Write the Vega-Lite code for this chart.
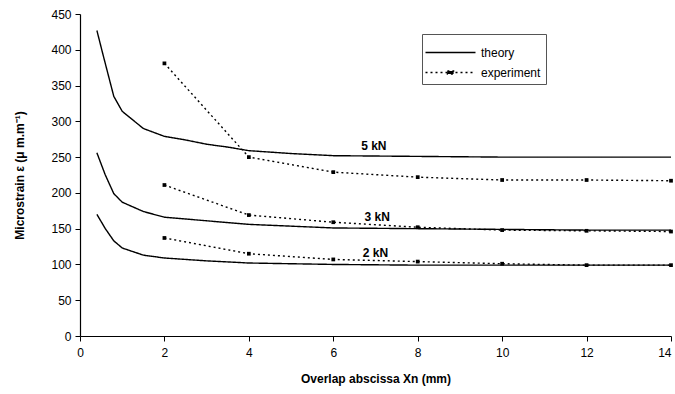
{
  "$schema": "https://vega.github.io/schema/vega-lite/v6.json",
  "autosize": {"type": "none"},
  "padding": {"left": 80, "top": 14, "right": 4, "bottom": 58},
  "width": 591,
  "height": 322,
  "background": "white",
  "config": {
    "view": {"stroke": null},
    "font": "Liberation Sans",
    "axis": {
      "grid": false,
      "domainColor": "black",
      "tickColor": "black",
      "labelColor": "black",
      "titleColor": "black",
      "labelFont": "Liberation Sans",
      "titleFont": "Liberation Sans",
      "labelFontSize": 12,
      "titleFontSize": 12,
      "titleFontWeight": "bold",
      "tickSize": 5,
      "domainWidth": 1.2,
      "tickWidth": 1,
      "labelOverlap": false,
      "labelFlush": false,
      "labelBound": false
    }
  },
  "datasets": {
    "curves": [
      {"load": "5 kN", "type": "theory", "x": 0.4, "y": 427},
      {"load": "5 kN", "type": "theory", "x": 0.55, "y": 392},
      {"load": "5 kN", "type": "theory", "x": 0.8, "y": 335},
      {"load": "5 kN", "type": "theory", "x": 1.0, "y": 314},
      {"load": "5 kN", "type": "theory", "x": 1.5, "y": 290},
      {"load": "5 kN", "type": "theory", "x": 2, "y": 279},
      {"load": "5 kN", "type": "theory", "x": 2.5, "y": 274},
      {"load": "5 kN", "type": "theory", "x": 3, "y": 268},
      {"load": "5 kN", "type": "theory", "x": 3.5, "y": 264},
      {"load": "5 kN", "type": "theory", "x": 4, "y": 259},
      {"load": "5 kN", "type": "theory", "x": 5, "y": 255},
      {"load": "5 kN", "type": "theory", "x": 6, "y": 252},
      {"load": "5 kN", "type": "theory", "x": 8, "y": 251},
      {"load": "5 kN", "type": "theory", "x": 10, "y": 250},
      {"load": "5 kN", "type": "theory", "x": 12, "y": 250},
      {"load": "5 kN", "type": "theory", "x": 14, "y": 250},
      {"load": "3 kN", "type": "theory", "x": 0.4, "y": 256},
      {"load": "3 kN", "type": "theory", "x": 0.6, "y": 225},
      {"load": "3 kN", "type": "theory", "x": 0.8, "y": 199},
      {"load": "3 kN", "type": "theory", "x": 1.0, "y": 187},
      {"load": "3 kN", "type": "theory", "x": 1.5, "y": 174},
      {"load": "3 kN", "type": "theory", "x": 2, "y": 166},
      {"load": "3 kN", "type": "theory", "x": 3, "y": 161},
      {"load": "3 kN", "type": "theory", "x": 4, "y": 156},
      {"load": "3 kN", "type": "theory", "x": 6, "y": 151},
      {"load": "3 kN", "type": "theory", "x": 8, "y": 150},
      {"load": "3 kN", "type": "theory", "x": 10, "y": 149},
      {"load": "3 kN", "type": "theory", "x": 12, "y": 148},
      {"load": "3 kN", "type": "theory", "x": 14, "y": 148},
      {"load": "2 kN", "type": "theory", "x": 0.4, "y": 170},
      {"load": "2 kN", "type": "theory", "x": 0.6, "y": 150},
      {"load": "2 kN", "type": "theory", "x": 0.8, "y": 133},
      {"load": "2 kN", "type": "theory", "x": 1.0, "y": 123},
      {"load": "2 kN", "type": "theory", "x": 1.5, "y": 113},
      {"load": "2 kN", "type": "theory", "x": 2, "y": 109},
      {"load": "2 kN", "type": "theory", "x": 3, "y": 105},
      {"load": "2 kN", "type": "theory", "x": 4, "y": 102},
      {"load": "2 kN", "type": "theory", "x": 6, "y": 100},
      {"load": "2 kN", "type": "theory", "x": 8, "y": 99},
      {"load": "2 kN", "type": "theory", "x": 10, "y": 99},
      {"load": "2 kN", "type": "theory", "x": 12, "y": 99},
      {"load": "2 kN", "type": "theory", "x": 14, "y": 99},
      {"load": "5 kN", "type": "experiment", "x": 2, "y": 381},
      {"load": "5 kN", "type": "experiment", "x": 4, "y": 250},
      {"load": "5 kN", "type": "experiment", "x": 6, "y": 229},
      {"load": "5 kN", "type": "experiment", "x": 8, "y": 222},
      {"load": "5 kN", "type": "experiment", "x": 10, "y": 218},
      {"load": "5 kN", "type": "experiment", "x": 12, "y": 218},
      {"load": "5 kN", "type": "experiment", "x": 14, "y": 217},
      {"load": "3 kN", "type": "experiment", "x": 2, "y": 211},
      {"load": "3 kN", "type": "experiment", "x": 4, "y": 169},
      {"load": "3 kN", "type": "experiment", "x": 6, "y": 159},
      {"load": "3 kN", "type": "experiment", "x": 8, "y": 152},
      {"load": "3 kN", "type": "experiment", "x": 10, "y": 148},
      {"load": "3 kN", "type": "experiment", "x": 12, "y": 147},
      {"load": "3 kN", "type": "experiment", "x": 14, "y": 146},
      {"load": "2 kN", "type": "experiment", "x": 2, "y": 137},
      {"load": "2 kN", "type": "experiment", "x": 4, "y": 115},
      {"load": "2 kN", "type": "experiment", "x": 6, "y": 107},
      {"load": "2 kN", "type": "experiment", "x": 8, "y": 104},
      {"load": "2 kN", "type": "experiment", "x": 10, "y": 101},
      {"load": "2 kN", "type": "experiment", "x": 12, "y": 99},
      {"load": "2 kN", "type": "experiment", "x": 14, "y": 99}
    ],
    "labels": [
      {"label": "5 kN", "x": 6.96, "y": 265},
      {"label": "3 kN", "x": 7.04, "y": 166},
      {"label": "2 kN", "x": 7.0, "y": 116}
    ]
  },
  "encoding": {
    "x": {
      "field": "x", "type": "quantitative",
      "scale": {"domain": [0, 14], "nice": false},
      "axis": {
        "values": [0, 2, 4, 6, 8, 10, 12, 14],
        "title": "Overlap abscissa Xn (mm)",
        "labelPadding": 6,
        "titlePadding": 15,
        "labelAlign": {"condition": {"test": "datum.value >= 14", "value": "right"}, "value": "center"}
      }
    },
    "y": {
      "field": "y", "type": "quantitative",
      "scale": {"domain": [0, 450], "nice": false},
      "axis": {"values": [0, 50, 100, 150, 200, 250, 300, 350, 400, 450], "title": "Microstrain ε (μ m.m⁻¹)", "labelPadding": 4, "titlePadding": 24}
    }
  },
  "layer": [
    {
      "data": {"name": "curves"},
      "mark": {"type": "line", "color": "black", "strokeWidth": 1.4},
      "encoding": {
        "detail": {"field": "load"},
        "strokeDash": {
          "field": "type", "type": "nominal",
          "scale": {"domain": ["theory", "experiment"], "range": [[1, 0], [2, 3]]},
          "legend": {
            "title": null,
            "orient": "none",
            "legendX": 342,
            "legendY": 20,
            "strokeColor": "#555",
            "fillColor": "white",
            "padding": 5,
            "symbolType": "M-2,0H2",
            "symbolSize": 625,
            "symbolOffset": 10,
            "symbolStrokeColor": "black",
            "symbolFillColor": "black",
            "symbolStrokeWidth": 1.3,
            "labelFont": "Liberation Sans",
            "labelFontSize": 12,
            "labelColor": "black",
            "labelOffset": 17,
            "rowPadding": 0,
            "encode": {
              "symbols": {
                "update": {
                  "shape": {"signal": "datum.value === 'experiment' ? 'M-2,0H2M-0.25,-0.12H0.25V0.12H-0.25Z' : 'M-2,0H2'"}
                }
              }
            }
          }
        }
      }
    },
    {
      "data": {"name": "curves"},
      "transform": [{"filter": "datum.type === 'experiment'"}],
      "mark": {"type": "point", "shape": "square", "filled": true, "color": "black", "size": 14, "opacity": 1},
      "encoding": {}
    },
    {
      "data": {"name": "labels"},
      "mark": {"type": "text", "font": "Liberation Sans", "fontSize": 12, "fontWeight": "bold", "color": "black", "baseline": "middle", "align": "center"},
      "encoding": {
        "text": {"field": "label"}
      }
    }
  ]
}
